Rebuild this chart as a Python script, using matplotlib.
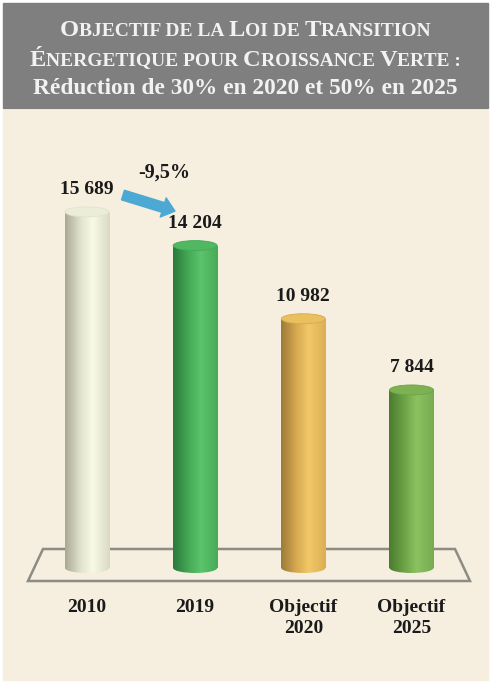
import matplotlib
matplotlib.use("Agg")
import matplotlib.pyplot as plt
import numpy as np
from matplotlib.colors import LinearSegmentedColormap
from matplotlib.patches import Rectangle, Ellipse, Polygon
from matplotlib.offsetbox import TextArea, HPacker, AnchoredOffsetbox

# data
categories = ["2010", "2019", "Objectif\n2020", "Objectif\n2025"]
values = [15689, 14204, 10982, 7844]
change_label = "-9,5%"

# cylinder shading: left edge, middle, highlight, right edge
shades = [
    ["#a9a996", "#e2e3cf", "#f8f9e6", "#d9dac6"],
    ["#2a7a3c", "#45a955", "#5cc46c", "#47aa58"],
    ["#9c7a38", "#d8aa52", "#f1c868", "#dcae55"],
    ["#4b7c2e", "#6ea448", "#8dc262", "#76ab50"],
]
tops = ["#ecedd9", "#50b862", "#eabf5e", "#7cb252"]

W, H = 491, 682
fig = plt.figure(figsize=(W / 100, H / 100), dpi=100, facecolor="white")

# header and panel
fig.patches.append(Rectangle((3 / W, 1 - 108 / H), 485 / W, 105 / H,
                             transform=fig.transFigure, color="#7f7f7f", zorder=-2))
fig.patches.append(Rectangle((3 / W, 2 / H), 485 / W, 570 / H,
                             transform=fig.transFigure, color="#f6eedf", zorder=-2))

ax = fig.add_axes([0, 0, 1, 1])
ax.set_xlim(-0.804, 3.735)
ax.set_ylim(-5022, 25022)
ax.axis("off")
ax.patch.set_alpha(0)

# floor
floor = Polygon([(43 / W, 1 - 549 / H), (455 / W, 1 - 549 / H),
                 (470 / W, 1 - 581 / H), (28 / W, 1 - 581 / H)],
                closed=True, fill=False, edgecolor="#8c8c84", lw=1.8,
                transform=fig.transFigure, zorder=1)
ax.add_patch(floor)

x = np.arange(len(values))
w = 0.407
eh = 440  # ellipse height in data units
bars = ax.bar(x, values, width=w, color="none", edgecolor="none", zorder=3)

grad = np.linspace(0, 1, 200).reshape(1, -1)
for xi, v, rect, sh, tc in zip(x, values, bars, shades, tops):
    cmap = LinearSegmentedColormap.from_list("c", list(zip([0, 0.35, 0.62, 1], sh)))
    ext = (xi - w / 2, xi + w / 2, -eh, v + eh)
    body = ax.imshow(grad, cmap=cmap, extent=ext, aspect="auto", zorder=3,
                     interpolation="bilinear")
    body.set_clip_path(rect)
    bottom = Ellipse((xi, 0), w, eh, transform=ax.transData, fc="none", ec="none")
    ax.add_patch(bottom)
    bot_img = ax.imshow(grad, cmap=cmap, extent=ext, aspect="auto", zorder=3,
                        interpolation="bilinear")
    bot_img.set_clip_path(bottom)
    top = Ellipse((xi, v), w, eh, fc=tc, ec=sh[1], lw=0.6, zorder=4)
    ax.add_patch(top)
    ax.annotate(f"{v:,}".replace(",", " "), (xi, v), xytext=(0, 16),
                textcoords="offset points", ha="center", va="center",
                fontsize=14, fontweight="bold", family="Liberation Serif",
                color="#1a1a1a")

for xi, lab in zip(x, categories):
    ax.annotate(lab, (xi, 0), xytext=(0, -22), textcoords="offset points",
                ha="center", va="top", fontsize=14, fontweight="bold",
                family="Liberation Serif", color="#1a1a1a", linespacing=1.38)

# arrow between 2010 and 2019
ax.annotate("", xy=(x[1] - 0.187, values[1] + 1520), xytext=(x[0] + 0.333, values[0] + 740),
            arrowprops=dict(arrowstyle="simple,head_width=1.8,head_length=1.1,tail_width=0.9",
                            mutation_scale=8, color="#4ba9d3", shrinkA=0, shrinkB=0),
            zorder=5)
ax.text(x[0] + 0.712, values[0] + 1720, change_label, ha="center", va="center",
        fontsize=14.5, fontweight="bold", family="Liberation Serif", color="#1a1a1a")

# title with small caps
big, small = 17.6, 14
tcol = "#f2f2f2"


def caps_line(parts, yfrac):
    boxes = [TextArea(s, textprops=dict(fontsize=big if b else small, fontweight="bold",
                                        family="Liberation Serif", color=tcol))
             for s, b in parts]
    pack = HPacker(children=boxes, align="baseline", pad=0, sep=0)
    ab = AnchoredOffsetbox(loc="center", child=pack, bbox_to_anchor=(0.5, yfrac),
                           bbox_transform=fig.transFigure, frameon=False, pad=0,
                           borderpad=0)
    fig.add_artist(ab)


caps_line([("O", 1), ("BJECTIF DE LA ", 0), ("L", 1), ("OI DE ", 0),
           ("T", 1), ("RANSITION", 0)], 1 - 31 / H)
caps_line([("É", 1), ("NERGETIQUE POUR ", 0), ("C", 1), ("ROISSANCE ", 0),
           ("V", 1), ("ERTE :", 0)], 1 - 60 / H)
fig.text(0.5, 1 - 88 / H, "Réduction de 30% en 2020 et 50% en 2025", ha="center",
         va="center", fontsize=16.8, fontweight="bold", family="Liberation Serif",
         color=tcol)

fig.savefig("out.png", dpi=100, facecolor="white")
